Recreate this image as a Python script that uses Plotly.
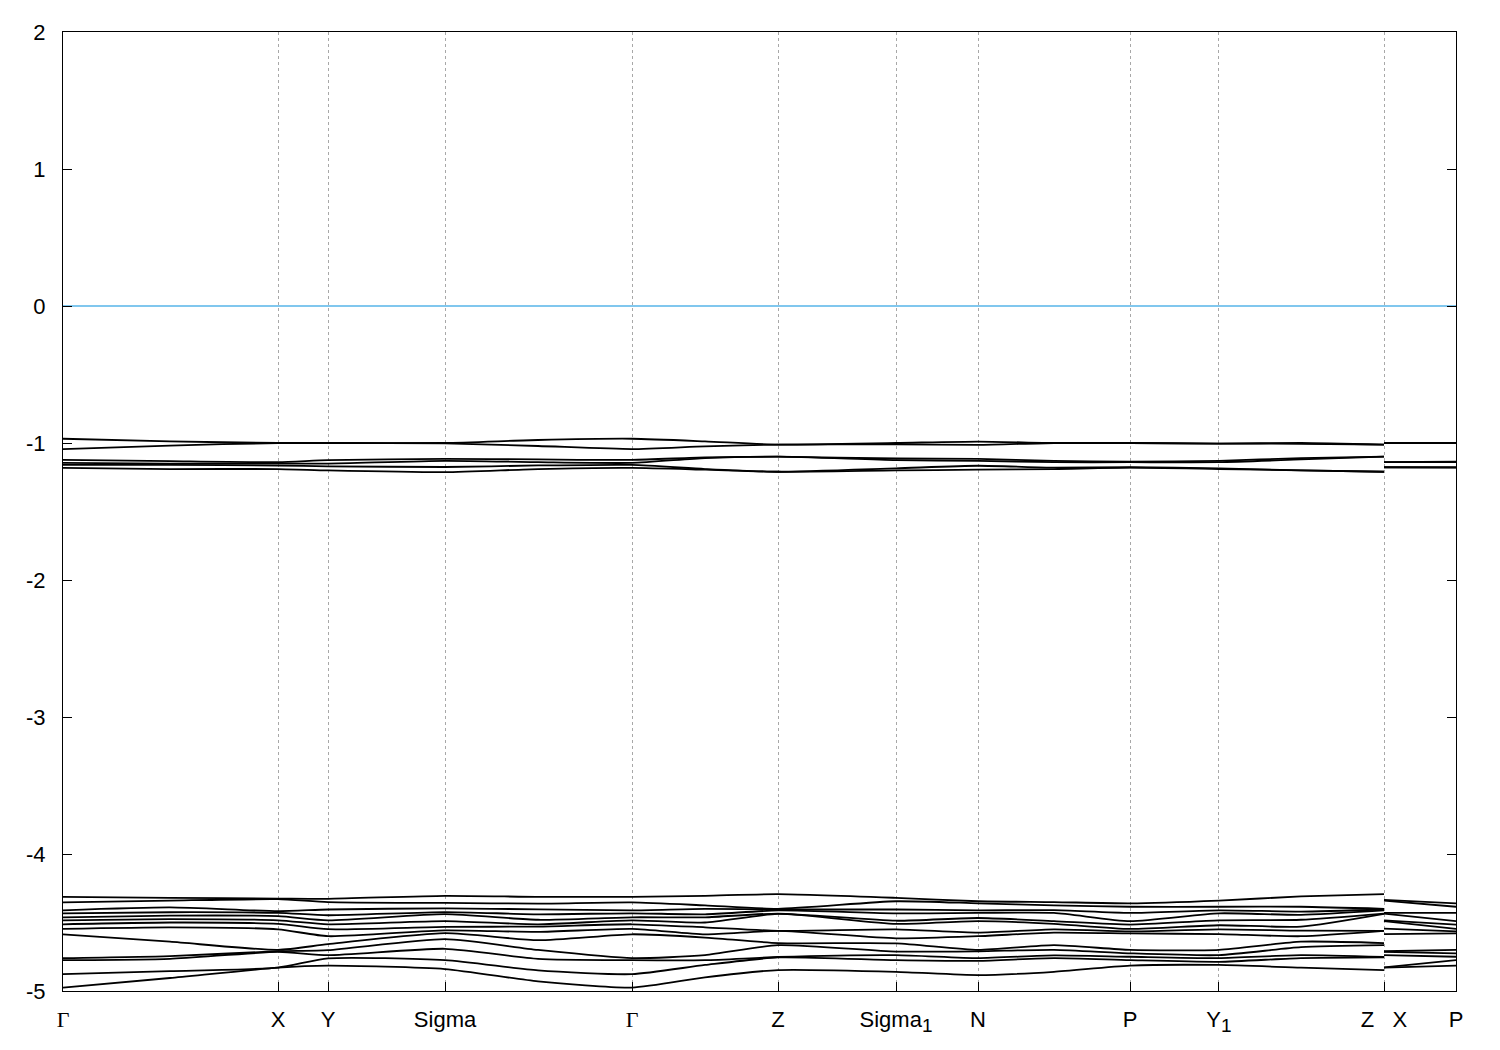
import plotly.graph_objects as go

# ---- k-path (high-symmetry points) ----
k_labels = ['<span style="font-family:Liberation Serif">Γ</span>', "X", "Y", "Sigma",
            '<span style="font-family:Liberation Serif">Γ</span>', "Z",
            'Sigma<sub><span style="font-size:19px">1</span></sub>', "N",
            "P", 'Y<sub><span style="font-size:19px">1</span></sub>', "Z\u00a0\u00a0\u00a0X", "P"]
k_ticks = [0.0, 0.15434, 0.19024, 0.27423, 0.40847, 0.51328, 0.59799, 0.65686,
           0.76597, 0.82986, 0.94831, 1.0]

# energy axis ticks
e_ticks = [2, 1, 0, -1, -2, -3, -4, -5]
e_labels = ["2", "1", "0", "-1", "-2", "-3", "-4", "-5"]

# sampled k positions: path 1 (Γ-X-Y-Σ-Γ-Z-Σ1-N-P-Y1-Z), path 2 (X-P)
k_path1 = [0.0, 0.0768, 0.15434, 0.19024, 0.27423, 0.3410, 0.40847, 0.4609,
           0.51328, 0.59799, 0.65686, 0.7114, 0.76597, 0.82986, 0.8887, 0.94831]
k_path2 = [0.94831, 1.0]

# ---- upper band group (eV), one array per k sample ----
U_G   = [-0.969, -1.044, -1.123, -1.145, -1.160, -1.182]
U_m1  = [-0.988, -1.019, -1.133, -1.150, -1.160, -1.190]
U_X   = [-1.000, -1.000, -1.140, -1.150, -1.165, -1.190]
U_Y   = [-1.000, -1.000, -1.125, -1.150, -1.170, -1.200]
U_S   = [-1.000, -1.003, -1.116, -1.130, -1.175, -1.213]
U_m2  = [-0.978, -1.022, -1.120, -1.140, -1.164, -1.190]
U_m3  = [-0.988, -1.024, -1.105, -1.110, -1.190, -1.195]
U_Z   = [-1.012, -1.012, -1.100, -1.100, -1.210, -1.210]
U_S1  = [-1.000, -1.010, -1.113, -1.125, -1.185, -1.200]
U_N   = [-0.990, -1.014, -1.116, -1.130, -1.166, -1.195]
U_m4  = [-1.000, -1.000, -1.130, -1.140, -1.180, -1.190]
U_P   = [-1.000, -1.000, -1.137, -1.140, -1.177, -1.180]
U_Y1  = [-1.004, -1.004, -1.130, -1.140, -1.185, -1.190]
U_m5  = [-1.000, -1.006, -1.110, -1.120, -1.200, -1.200]
U_X2  = [-1.000, -1.000, -1.140, -1.140, -1.177, -1.177]

# ---- lower band group (eV), one array per k sample ----
L_G   = [-4.313, -4.353, -4.411, -4.433, -4.462, -4.484, -4.513, -4.546, -4.586, -4.760, -4.775, -4.877, -4.975]
L_m1  = [-4.320, -4.340, -4.390, -4.425, -4.450, -4.475, -4.500, -4.535, -4.640, -4.745, -4.765, -4.855, -4.905]
L_X   = [-4.325, -4.330, -4.417, -4.430, -4.454, -4.484, -4.510, -4.550, -4.700, -4.710, -4.715, -4.829, -4.830]
L_Y   = [-4.327, -4.351, -4.405, -4.447, -4.484, -4.513, -4.549, -4.600, -4.658, -4.702, -4.738, -4.762, -4.815]
L_S   = [-4.305, -4.357, -4.397, -4.424, -4.439, -4.490, -4.532, -4.557, -4.578, -4.622, -4.692, -4.775, -4.840]
L_m2  = [-4.313, -4.362, -4.404, -4.440, -4.480, -4.513, -4.530, -4.569, -4.629, -4.700, -4.765, -4.850, -4.930]
L_m3  = [-4.305, -4.375, -4.400, -4.440, -4.462, -4.500, -4.535, -4.586, -4.610, -4.738, -4.775, -4.810, -4.900]
L_Z   = [-4.293, -4.400, -4.405, -4.412, -4.435, -4.437, -4.561, -4.561, -4.650, -4.665, -4.752, -4.755, -4.847]
L_S1  = [-4.320, -4.345, -4.405, -4.433, -4.487, -4.510, -4.550, -4.616, -4.652, -4.712, -4.738, -4.775, -4.860]
L_N   = [-4.345, -4.360, -4.411, -4.430, -4.467, -4.490, -4.574, -4.600, -4.700, -4.710, -4.760, -4.780, -4.884]
L_m4  = [-4.351, -4.375, -4.410, -4.430, -4.490, -4.510, -4.550, -4.574, -4.665, -4.700, -4.740, -4.760, -4.860]
L_P   = [-4.360, -4.385, -4.430, -4.490, -4.515, -4.547, -4.565, -4.580, -4.700, -4.725, -4.750, -4.775, -4.815]
L_Y1  = [-4.340, -4.385, -4.411, -4.433, -4.484, -4.520, -4.550, -4.585, -4.700, -4.738, -4.760, -4.787, -4.810]
L_m5  = [-4.310, -4.385, -4.420, -4.444, -4.480, -4.530, -4.560, -4.600, -4.640, -4.680, -4.738, -4.760, -4.830]
L_X2  = [-4.335, -4.340, -4.430, -4.435, -4.484, -4.490, -4.545, -4.585, -4.710, -4.715, -4.738, -4.828, -4.830]

fermi_k = [0.0, 1.0]
fermi_e = [0.0, 0.0]

path1_U = [U_G, U_m1, U_X, U_Y, U_S, U_m2, U_G, U_m3, U_Z, U_S1, U_N, U_m4, U_P, U_Y1, U_m5, U_Z]
path2_U = [U_X2, U_P]
path1_L = [L_G, L_m1, L_X, L_Y, L_S, L_m2, L_G, L_m3, L_Z, L_S1, L_N, L_m4, L_P, L_Y1, L_m5, L_Z]
path2_L = [L_X2, L_P]

fig = go.Figure()

fig.add_trace(go.Scatter(x=fermi_k, y=fermi_e, mode="lines",
                         line=dict(color="#56b4e9", width=1.5), hoverinfo="skip",
                         showlegend=False))

def add_bands(p1, p2):
    nb = len(p1[0])
    for b in range(nb):
        xs = list(k_path1) + [None] + list(k_path2)
        ys = [col[b] for col in p1] + [None] + [col[b] for col in p2]
        fig.add_trace(go.Scatter(x=xs, y=ys, mode="lines",
                                 line=dict(color="black", width=1.8, shape="spline", smoothing=0.6),
                                 connectgaps=False, showlegend=False, hoverinfo="skip"))

add_bands(path1_U, path2_U)
add_bands(path1_L, path2_L)

font = dict(family="Liberation Sans, Arial, sans-serif", size=22, color="black")

# page body has an 8px default margin: size the figure to keep the frame at 63..1456 x 28..991
fig.update_layout(
    width=1492, height=1042,
    margin=dict(l=55, r=44, t=17, b=59),
    paper_bgcolor="white", plot_bgcolor="white",
    showlegend=False,
    font=font,
    xaxis=dict(range=[0, 1], tickmode="array", tickvals=k_ticks, ticktext=k_labels,
               ticks="inside", ticklen=9, tickwidth=1, tickcolor="black",
               showline=True, linecolor="black", linewidth=1, mirror=True,
               showgrid=True, gridcolor="#a8a8a8", gridwidth=1, griddash="3px,3px",
               zeroline=False, tickfont=font, ticklabelstandoff=9),
    yaxis=dict(range=[-5, 2], tickmode="array", tickvals=e_ticks, ticktext=e_labels,
               ticks="inside", ticklen=9, tickwidth=1, tickcolor="black",
               showline=True, linecolor="black", linewidth=1, mirror="ticks",
               showgrid=False, zeroline=False, tickfont=font, ticklabelstandoff=12),
)

fig.write_html("out.html")
